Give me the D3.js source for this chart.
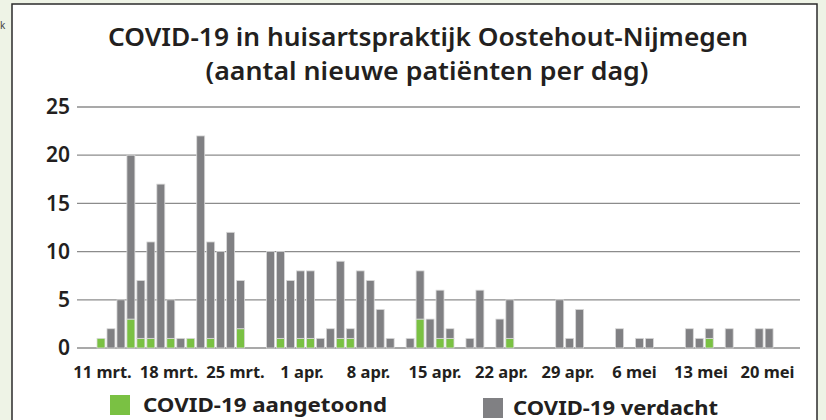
<!DOCTYPE html>
<html>
<head>
<meta charset="utf-8">
<script src="https://cdn.jsdelivr.net/npm/d3@7"></script>
<style>
  body { margin: 0; background: #eef3e6; }
  svg { display: block; font-family: "Noto Sans", sans-serif; }
</style>
</head>
<body>
<div id="chart"></div>
<script>
// categories: one bar per day, 11 mrt. t/m 20 mei 2020
var days = d3.timeDay.range(new Date(2020, 2, 11), new Date(2020, 4, 21));

// COVID-19 aangetoond (green)
var confirmed = [
  1, 0, 0, 3, 1, 1, 0, 1, 0, 1,
  0, 1, 0, 0, 2, 0, 0, 0, 1, 0,
  1, 1, 0, 0, 1, 1, 0, 0, 0, 0,
  0, 0, 3, 0, 1, 1, 0, 0, 0, 0,
  0, 1, 0, 0, 0, 0, 0, 0, 0, 0,
  0, 0, 0, 0, 0, 0, 0, 0, 0, 0,
  0, 1, 0, 0, 0, 0, 0, 0, 0, 0,
  0
];

// COVID-19 verdacht (grey)
var suspected = [
  0, 2, 5, 17, 6, 10, 17, 4, 1, 0,
  22, 10, 10, 12, 5, 0, 0, 10, 9, 7,
  7, 7, 1, 2, 8, 1, 8, 7, 4, 1,
  0, 1, 5, 3, 5, 1, 0, 1, 6, 0,
  3, 4, 0, 0, 0, 0, 5, 1, 4, 0,
  0, 0, 2, 0, 1, 1, 0, 0, 0, 2,
  1, 1, 0, 2, 0, 0, 2, 2, 0, 0,
  0
];

var tickLabels = ["11 mrt.", "18 mrt.", "25 mrt.", "1 apr.", "8 apr.", "15 apr.",
                  "22 apr.", "29 apr.", "6 mei", "13 mei", "20 mei"];
var yTicks = [0, 5, 10, 15, 20, 25];
var seriesNames = ["COVID-19 aangetoond", "COVID-19 verdacht"];

var width = 826, height = 420;

var svg = d3.select("#chart")
  .append("svg")
  .attr("width", width)
  .attr("height", height);

// page background + white panel
svg.append("rect")
  .attr("width", width).attr("height", height)
  .attr("fill", "#eef3e6");
svg.append("text")
  .attr("x", 0).attr("y", 29)
  .attr("font-size", 10)
  .attr("fill", "#444")
  .text("k");
svg.append("rect")
  .attr("x", 12).attr("y", 4)
  .attr("width", 805).attr("height", 430)
  .attr("fill", "#fff")
  .attr("stroke", "#2b2b2b")
  .attr("stroke-width", 1.5);

// title
var title = svg.append("text")
  .attr("text-anchor", "middle")
  .attr("font-weight", 600)
  .attr("font-size", 26)
  .attr("fill", "#231f20");
title.append("tspan").attr("x", 428).attr("y", 46)
  .attr("textLength", 640).attr("lengthAdjust", "spacingAndGlyphs")
  .text("COVID-19 in huisartspraktijk Oostehout-Nijmegen");
title.append("tspan").attr("x", 427).attr("y", 80)
  .attr("textLength", 443).attr("lengthAdjust", "spacingAndGlyphs")
  .text("(aantal nieuwe patiënten per dag)");

//scales
var yScale = d3.scaleLinear()
  .domain([0, 25])
  .range([348, 107]);

var xScale = d3.scaleBand()
  .domain(days)
  .range([97, 803])
  .paddingInner(0.2);

// tick labels sit on their own point scale
var labelScale = d3.scalePoint()
  .domain(tickLabels)
  .range([102, 767]);

var colorScale = d3.scaleOrdinal()
  .domain(seriesNames)
  .range(["#7ac143", "#808083"]);

// gridlines
svg.selectAll(".grid")
  .data(yTicks)
  .enter().append("line")
  .attr("class", "grid")
  .attr("x1", 77).attr("x2", 800)
  .attr("y1", function (d) { return yScale(d); })
  .attr("y2", function (d) { return yScale(d); })
  .attr("stroke", "#8c8c8c")
  .attr("stroke-width", 1.3);

// y axis labels
var yAxis = d3.axisLeft(yScale).tickValues(yTicks).tickSize(0).tickPadding(0);
svg.append("g")
  .attr("transform", "translate(70,0)")
  .call(yAxis)
  .call(function (g) { g.select(".domain").remove(); })
  .selectAll("text")
  .attr("font-family", "Noto Sans, sans-serif")
  .attr("font-size", 21)
  .attr("font-weight", 600)
  .attr("fill", "#231f20");

// x axis labels
var xAxis = d3.axisBottom(labelScale).tickSize(0).tickPadding(0);
svg.append("g")
  .attr("transform", "translate(0,366)")
  .call(xAxis)
  .call(function (g) { g.select(".domain").remove(); })
  .selectAll("text")
  .attr("font-family", "Noto Sans, sans-serif")
  .attr("font-size", 16.5)
  .attr("font-weight", 700)
  .attr("fill", "#231f20");

// stacked bars
var table = days.map(function (d, i) {
  return { day: d, "COVID-19 aangetoond": confirmed[i], "COVID-19 verdacht": suspected[i] };
});
var stacked = d3.stack().keys(seriesNames)(table);

svg.selectAll(".series")
  .data(stacked)
  .enter().append("g")
  .attr("class", "series")
  .attr("fill", function (d) { return colorScale(d.key); })
  .selectAll("rect")
  .data(function (d) { return d.filter(function (p) { return p[1] > p[0]; }); })
  .enter().append("rect")
  .attr("x", function (d) { return xScale(d.data.day); })
  .attr("width", xScale.bandwidth())
  .attr("y", function (d) { return yScale(d[1]); })
  .attr("height", function (d) { return yScale(d[0]) - yScale(d[1]); })
  .attr("stroke", "#d9d9d9")
  .attr("stroke-width", 0.8);

// legend
var legend = svg.selectAll(".legend")
  .data(seriesNames)
  .enter().append("g")
  .attr("class", "legend")
  .attr("transform", function (d, i) { return i === 0 ? "translate(110,395)" : "translate(483,398)"; });
legend.append("rect")
  .attr("width", 20).attr("height", 20)
  .attr("fill", function (d) { return colorScale(d); });
legend.append("text")
  .attr("x", function (d, i) { return i === 0 ? 33 : 30; })
  .attr("y", 16.5)
  .attr("font-size", 20)
  .attr("font-weight", 700)
  .attr("textLength", function (d, i) { return i === 0 ? 244 : 205; })
  .attr("lengthAdjust", "spacingAndGlyphs")
  .attr("fill", "#231f20")
  .text(function (d) { return d; });
</script>
</body>
</html>
